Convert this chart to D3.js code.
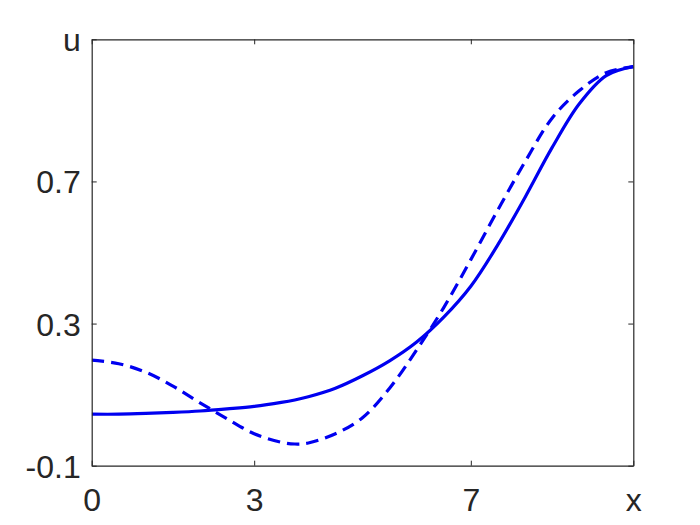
<!DOCTYPE html>
<html>
<head>
<meta charset="utf-8">
<script src="https://cdn.jsdelivr.net/npm/d3@7"></script>
<style>
  html, body { margin: 0; padding: 0; background: #ffffff; }
  svg { display: block; }
</style>
</head>
<body>
<svg id="chart" width="700" height="525"></svg>
<script>
// ---- data ----
const xs = [0, 0.5, 1, 1.5, 2, 2.5, 3, 3.5, 3.75, 4, 4.5, 5, 5.5, 6, 6.5, 7, 7.5, 8, 8.5, 9, 9.5, 10];
const solidU = [0.045, 0.045, 0.047, 0.050, 0.054, 0.060, 0.067, 0.078, 0.085, 0.094, 0.118, 0.153, 0.195, 0.248, 0.318, 0.405, 0.522, 0.655, 0.795, 0.918, 0.998, 1.023];
const dashedU = [0.197, 0.187, 0.163, 0.124, 0.077, 0.032, -0.010, -0.034, -0.039, -0.036, -0.010, 0.035, 0.118, 0.226, 0.345, 0.48, 0.62, 0.755, 0.878, 0.955, 1.006, 1.023];
const xTickValues = [0, 3, 7, 10];
const xTickLabels = ["0", "3", "7", "x"];
const yTickValues = [-0.1, 0.3, 0.7, 1.1];
const yTickLabels = ["-0.1", "0.3", "0.7", "u"];

// ---- layout ----
const pLeft = 91.7, pRight = 633.3, pTop = 39.3, pBottom = 465.7;
const svg = d3.select("#chart");
const x = d3.scaleLinear().domain([0, 10]).range([pLeft, pRight]);
const y = d3.scaleLinear().domain([-0.1, 1.1]).range([pBottom, pTop]);
const axisColor = "#262626";
const fontFam = "Arial, 'Liberation Sans', Helvetica, sans-serif";
const fs = 32;

// curves
const solidData = xs.map((v, i) => [v, solidU[i]]);
const dashedData = xs.map((v, i) => [v, dashedU[i]]);
const line = d3.line().x(d => x(d[0])).y(d => y(d[1])).curve(d3.curveCatmullRom.alpha(0.5));

svg.append("clipPath").attr("id", "clip")
  .append("rect").attr("x", pLeft).attr("y", pTop - 3).attr("width", pRight - pLeft + 2).attr("height", pBottom - pTop + 3);

const plot = svg.append("g").attr("clip-path", "url(#clip)");
plot.append("path").datum(solidData).attr("d", line)
  .attr("fill", "none").attr("stroke", "#0000f0").attr("stroke-width", 3.2);
plot.append("path").datum(dashedData).attr("d", line)
  .attr("fill", "none").attr("stroke", "#0000f0").attr("stroke-width", 3.2)
  .attr("stroke-dasharray", "12.5,7");

// axes (ticks inward on all sides)
const tickLen = 5;
const gB = svg.append("g").attr("transform", `translate(0,${pBottom})`)
  .call(d3.axisBottom(x).tickValues(xTickValues).tickSizeInner(-tickLen).tickSizeOuter(0)
    .tickFormat((d, i) => xTickLabels[i]));
const gT = svg.append("g").attr("transform", `translate(0,${pTop})`)
  .call(d3.axisTop(x).tickValues(xTickValues).tickSizeInner(-tickLen).tickSizeOuter(0).tickFormat(""));
const gL = svg.append("g").attr("transform", `translate(${pLeft},0)`)
  .call(d3.axisLeft(y).tickValues(yTickValues).tickSizeInner(-tickLen).tickSizeOuter(0)
    .tickFormat((d, i) => yTickLabels[i]));
const gR = svg.append("g").attr("transform", `translate(${pRight},0)`)
  .call(d3.axisRight(y).tickValues(yTickValues).tickSizeInner(-tickLen).tickSizeOuter(0).tickFormat(""));

[gB, gT, gL, gR].forEach(g => {
  g.select(".domain").attr("stroke", axisColor).attr("stroke-width", 1.2);
  g.selectAll(".tick line").attr("stroke", axisColor).attr("stroke-width", 1);
  g.selectAll("text").attr("fill", axisColor).attr("font-family", fontFam).attr("font-size", fs);
});
gB.selectAll("text").attr("dy", null).attr("y", 45);
gL.selectAll("text").attr("x", -11).attr("dy", "0.36em");
</script>
</body>
</html>
